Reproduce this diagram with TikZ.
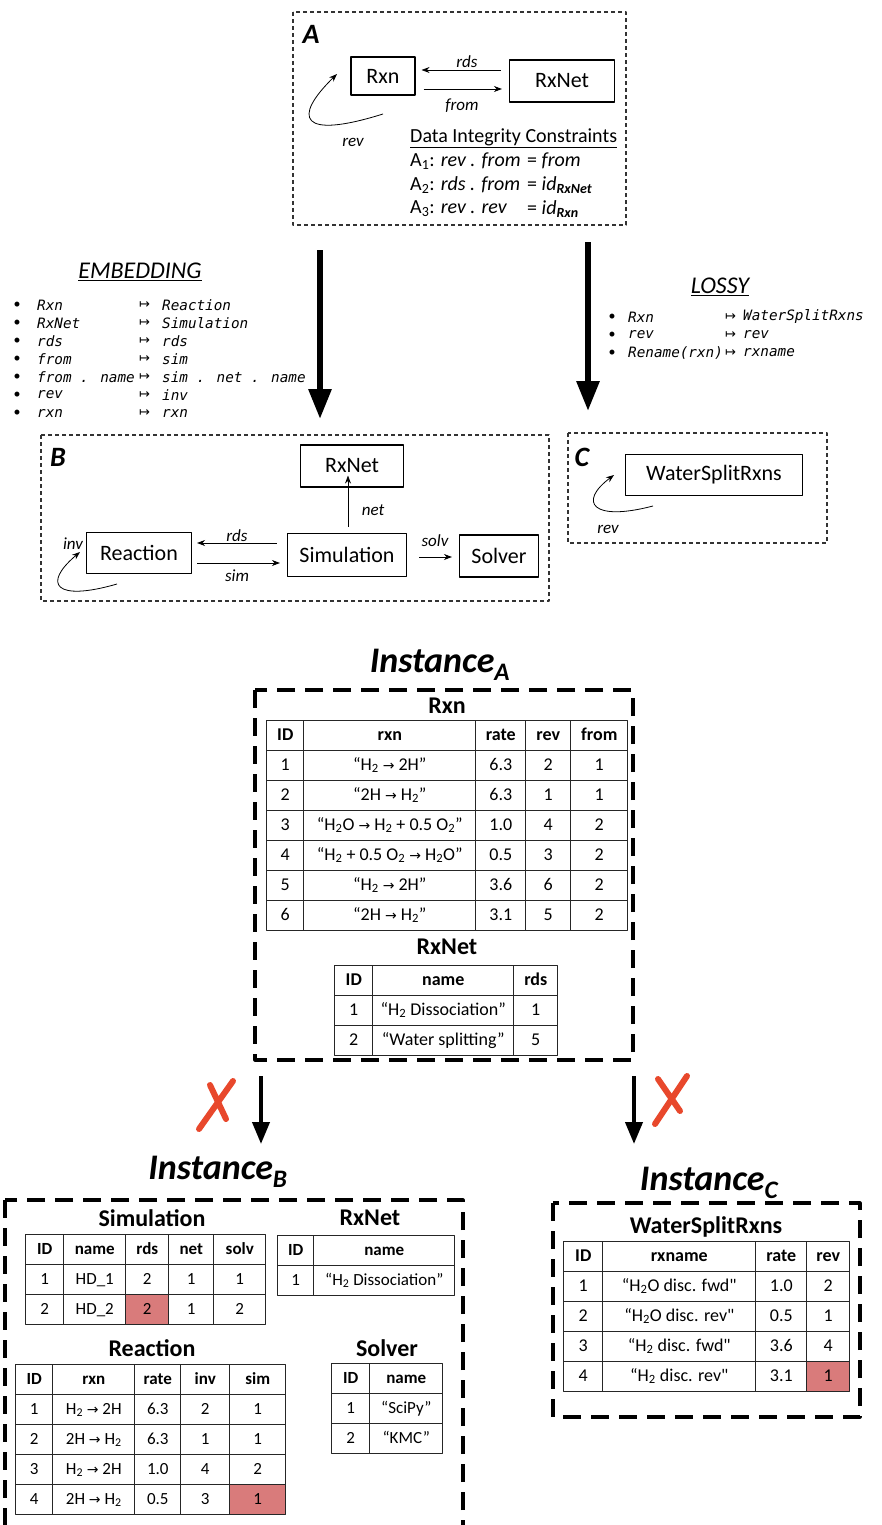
\documentclass[tikz,border=0pt]{standalone}
\usepackage{fontspec}
\setmainfont{Carlito}
\newfontfamily\codefont{DejaVu Sans Mono}
\newfontfamily\djvfont{DejaVu Sans}
\usetikzlibrary{arrows.meta,calc,matrix,positioning}
\definecolor{hlred}{RGB}{217,123,123}
\definecolor{xred}{RGB}{232,72,44}
\newcommand\boxfont{\fontsize{22}{26}\selectfont}
\newcommand\edgefont{\fontsize{17}{20}\selectfont\itshape}
\newcommand\cellfont{\fontsize{18}{21}\selectfont}
\newcommand\cellfontB{\fontsize{17}{20}\selectfont}
\newcommand\rarr{{\djvfont\fontsize{14}{14}\selectfont →}}
\newcommand\mto{{\djvfont\fontsize{13}{15}\selectfont ↦}}
\tikzset{
  thinframe/.style={draw=black!80,line width=1.1pt,dash pattern=on 4pt off 3pt},
  thickframe/.style={draw=black,line width=3.2pt,dash pattern=on 18pt off 10pt},
  box/.style={draw,line width=1.1pt,font=\boxfont,inner sep=0pt},
  bigletter/.style={font=\fontsize{28}{30}\selectfont\bfseries\itshape},
  edgelbl/.style={font=\edgefont,inner sep=1pt},
  thinarrow/.style={line width=0.8pt,-{Stealth[length=8pt,width=6pt]}},
  fatarrow/.style={line width=6pt,-{Triangle[width=22pt,length=30pt]}},
  instarrow/.style={line width=4pt,-{Triangle[width=17pt,length=22pt]}},
  xmark/.style={xred,line width=6pt,line cap=round},
  maphead/.style={font=\fontsize{24}{28}\selectfont\itshape},
  code/.style={font=\codefont\fontsize{14.3}{17}\selectfont\itshape,inner sep=0pt,anchor=west},
  dot/.style={font=\fontsize{14}{16}\selectfont,inner sep=0pt},
  cons/.style={font=\fontsize{20}{24}\selectfont,inner sep=0pt,anchor=west},
  insttitle/.style={font=\fontsize{36}{40}\selectfont\bfseries\itshape},
  tblhead/.style={font=\fontsize{24}{28}\selectfont\bfseries},
  tbl/.style={matrix of nodes,inner sep=0pt,matrix anchor=north west,
    column sep=-1.2pt,row sep=-1.2pt,
    nodes={draw=black!85,line width=1.2pt,anchor=center,minimum height=30pt,
      text height=13pt,text depth=4pt,inner sep=1pt,font=\cellfont},
    row 1/.style={nodes={font=\cellfont\bfseries}}},
  tblB/.style={tbl,nodes={font=\cellfontB},row 1/.style={nodes={font=\cellfontB\bfseries}}}
}
\begin{document}
\begin{tikzpicture}[x=1pt,y=-1pt,line join=round]
\useasboundingbox (0,0) rectangle (882,1525);
%%% Schema A
\draw[thinframe] (293,12) rectangle (626,225);
\node[bigletter] (labA) at (311,34) {A};
\node[box,minimum width=64pt,minimum height=38pt] (Rxn) at (383,76) {Rxn};
\node[box,minimum width=105pt,minimum height=42pt] (RxNet) at (562,81) {RxNet};
\draw[thinarrow] ($(RxNet.west)+(-8,-11)$) -- ($(Rxn.east)+(6,-6)$);
\draw[thinarrow] ($(Rxn.east)+(8,13)$) -- ($(RxNet.west)+(-7,8)$);
\node[edgelbl] (lrdsA) at (467,62) {rds};
\node[edgelbl] (lfromA) at (462,106) {from};
\coordinate (revA0) at (383,114);
\coordinate (revA1) at (337,74);
\draw[thinarrow] (revA0) .. controls (300,140) and (292,118) .. (revA1);
\node[edgelbl] (lrevA) at (353,142) {rev};
\node[cons] (dic) at (410,138) {\underline{Data Integrity Constraints}};
\foreach \l/\r [count=\k] in {{A\textsubscript{1}: \textit{rev . from}}/{= \textit{from}},
  {A\textsubscript{2}: \textit{rds . from}}/{= \textit{id}\textsubscript{\textbf{\textit{RxNet}}}},
  {A\textsubscript{3}: \textit{rev . rev}}/{= \textit{id}\textsubscript{\textbf{\textit{Rxn}}}}}{
  \node[cons] (conL\k) at (410,137+24*\k) {\l};
  \node[cons] (conR\k) at (527,137+24*\k) {\r};
}
%%% mappings
\coordinate (embS) at (320,250);
\coordinate (embE) at (320,419);
\draw[fatarrow] (embS) -- (embE);
\coordinate (losS) at (588,242);
\coordinate (losE) at (588,411);
\draw[fatarrow] (losS) -- (losE);
\node[maphead] (emb) at (140,272) {\underline{EMBEDDING}};
\foreach \l/\r [count=\k] in {Rxn/Reaction,RxNet/Simulation,rds/rds,from/sim,
  from . name/sim . net . name,rev/inv,rxn/rxn}{
  \node[dot] (embD\k) at (17,287+18*\k) {\textbullet};
  \node[code] (embL\k) at (37,287+18*\k) {\l};
  \node[code] (embM\k) at (139,287+18*\k) {\mto};
  \node[code] (embR\k) at (162,287+18*\k) {\r};
}
\node[maphead] (los) at (720,287) {\underline{LOSSY}};
\foreach \l/\r [count=\k] in {Rxn/WaterSplitRxns,rev/rev,Rename(rxn)/rxname}{
  \node[dot] (losD\k) at (612,299+18*\k) {\textbullet};
  \node[code] (losL\k) at (628,299+18*\k) {\l};
  \node[code] (losM\k) at (725,299+18*\k) {\mto};
  \node[code] (losR\k) at (743,299+18*\k) {\r};
}
%%% Schema B
\draw[thinframe] (41,435) rectangle (549,601);
\node[bigletter] (labB) at (58,457) {B};
\node[box,minimum width=103pt,minimum height=42pt] (RxNetB) at (352,466) {RxNet};
\node[box,minimum width=105pt,minimum height=41pt] (Reaction) at (139,553) {Reaction};
\node[box,minimum width=119pt,minimum height=43pt] (Sim) at (347,555) {Simulation};
\node[box,minimum width=79pt,minimum height=42pt] (Solver) at (499,556) {Solver};
\draw[thinarrow] ($(Sim.west)+(-10,-12)$) -- ($(Reaction.east)+(5,-10)$);
\draw[thinarrow] ($(Reaction.east)+(5,10)$) -- ($(Sim.west)+(-7,8)$);
\draw[thinarrow] ($(Sim.north)+(1,-6)$) -- ($(RxNetB.south)+(-4,-12)$);
\draw[thinarrow] ($(Sim.east)+(12,2)$) -- ($(Solver.west)+(-7,1)$);
\node[edgelbl] (lrdsB) at (237,536) {rds};
\node[edgelbl] (lsimB) at (237,576) {sim};
\node[edgelbl] (lnetB) at (373,510) {net};
\node[edgelbl] (lsolvB) at (435,541) {solv};
\coordinate (invB0) at (117,584);
\coordinate (invB1) at (80,552);
\draw[thinarrow] (invB0) .. controls (55,602) and (42,584) .. (invB1);
\node[edgelbl] (linvB) at (73,544) {inv};
%%% Schema C
\draw[thinframe] (568,433) rectangle (827,543);
\node[bigletter] (labC) at (582,457) {C};
\node[box,minimum width=177pt,minimum height=41pt] (WSR) at (714,475) {WaterSplitRxns};
\coordinate (revC0) at (653,506);
\coordinate (revC1) at (614,475);
\draw[thinarrow] (revC0) .. controls (592,522) and (578,502) .. (revC1);
\node[edgelbl] (lrevC) at (608,529) {rev};
%%% Instance A
\node[insttitle] (titA) at (440,665) {Instance\textsubscript{A}};
\draw[thickframe] (255,690) rectangle (633,1060);
\node[tblhead] (hRxnA) at (447,706) {Rxn};
\matrix (tRxnA) [tbl,column 1/.style={nodes={minimum width=37pt}},
  column 2/.style={nodes={minimum width=172pt}},column 3/.style={nodes={minimum width=50pt}},
  column 4/.style={nodes={minimum width=45pt}},column 5/.style={nodes={minimum width=57pt}}]
  at (266,720) {
  ID & rxn & rate & rev & from \\
  1 & “H\textsubscript{2} \rarr{} 2H” & 6.3 & 2 & 1 \\
  2 & “2H \rarr{} H\textsubscript{2}” & 6.3 & 1 & 1 \\
  3 & “H\textsubscript{2}O \rarr{} H\textsubscript{2} + 0.5 O\textsubscript{2}” & 1.0 & 4 & 2 \\
  4 & “H\textsubscript{2} + 0.5 O\textsubscript{2} \rarr{} H\textsubscript{2}O” & 0.5 & 3 & 2 \\
  5 & “H\textsubscript{2} \rarr{} 2H” & 3.6 & 6 & 2 \\
  6 & “2H \rarr{} H\textsubscript{2}” & 3.1 & 5 & 2 \\
};
\node[tblhead] (hRxNetA) at (447,947) {RxNet};
\matrix (tRxNetA) [tbl,column 1/.style={nodes={minimum width=38pt}},
  column 2/.style={nodes={minimum width=141pt}},column 3/.style={nodes={minimum width=44pt}}]
  at (334,965) {
  ID & name & rds \\
  1 & “H\textsubscript{2} Dissociation” & 1 \\
  2 & “Water splitting” & 5 \\
};
\coordinate (iaS) at (261,1076);
\coordinate (iaE) at (261,1144);
\draw[instarrow] (iaS) -- (iaE);
\coordinate (icS) at (634,1076);
\coordinate (icE) at (634,1144);
\draw[instarrow] (icS) -- (icE);
\draw[xmark] (199,1129) -- (233,1081) (210,1085) -- (226,1119);
\draw[xmark] (655,1124) -- (687,1076) (658,1079) -- (680,1111);
%%% Instance B
\node[insttitle] (titB) at (218,1172) {Instance\textsubscript{B}};
\draw[thickframe] (5,1200) rectangle (463,1560);
\node[tblhead] (hSimB) at (152,1218) {Simulation};
\matrix (tSimB) [tblB,column 1/.style={nodes={minimum width=38pt}},
  column 2/.style={nodes={minimum width=62pt}},column 3/.style={nodes={minimum width=43pt}},
  column 4/.style={nodes={minimum width=45pt}},column 5/.style={nodes={minimum width=52pt}}]
  at (25,1234) {
  ID & name & rds & net & solv \\
  1 & HD\_1 & 2 & 1 & 1 \\
  2 & HD\_2 & |[fill=hlred]| 2 & 1 & 2 \\
};
\node[tblhead] (hRxNetB) at (370,1218) {RxNet};
\matrix (tRxNetB) [tblB,column 1/.style={nodes={minimum width=36pt}},
  column 2/.style={nodes={minimum width=141pt}}]
  at (277,1235) {
  ID & name \\
  1 & “H\textsubscript{2} Dissociation” \\
};
\node[tblhead] (hReacB) at (152,1348) {Reaction};
\matrix (tReacB) [tblB,column 1/.style={nodes={minimum width=37pt}},
  column 2/.style={nodes={minimum width=82pt}},column 3/.style={nodes={minimum width=46pt}},
  column 4/.style={nodes={minimum width=49pt}},column 5/.style={nodes={minimum width=56pt}}]
  at (15,1364) {
  ID & rxn & rate & inv & sim \\
  1 & H\textsubscript{2} \rarr{} 2H & 6.3 & 2 & 1 \\
  2 & 2H \rarr{} H\textsubscript{2} & 6.3 & 1 & 1 \\
  3 & H\textsubscript{2} \rarr{} 2H & 1.0 & 4 & 2 \\
  4 & 2H \rarr{} H\textsubscript{2} & 0.5 & 3 & |[fill=hlred]| 1 \\
};
\node[tblhead] (hSolvB) at (387,1348) {Solver};
\matrix (tSolvB) [tblB,column 1/.style={nodes={minimum width=38pt}},
  column 2/.style={nodes={minimum width=73pt}}]
  at (331,1363) {
  ID & name \\
  1 & “SciPy” \\
  2 & “KMC” \\
};
%%% Instance C
\node[insttitle] (titC) at (709,1183) {Instance\textsubscript{C}};
\draw[thickframe] (553,1203) rectangle (860,1417);
\node[tblhead] (hWSRC) at (706,1227) {WaterSplitRxns};
\matrix (tWSRC) [tbl,column 1/.style={nodes={minimum width=39pt}},
  column 2/.style={nodes={minimum width=153pt}},column 3/.style={nodes={minimum width=51pt}},
  column 4/.style={nodes={minimum width=43pt}}]
  at (563,1241) {
  ID & rxname & rate & rev \\
  1 & “H\textsubscript{2}O disc. fwd\textquotedbl & 1.0 & 2 \\
  2 & “H\textsubscript{2}O disc. rev\textquotedbl & 0.5 & 1 \\
  3 & “H\textsubscript{2} disc. fwd\textquotedbl & 3.6 & 4 \\
  4 & “H\textsubscript{2} disc. rev\textquotedbl & 3.1 & |[fill=hlred]| 1 \\
};
\end{tikzpicture}
\end{document}
